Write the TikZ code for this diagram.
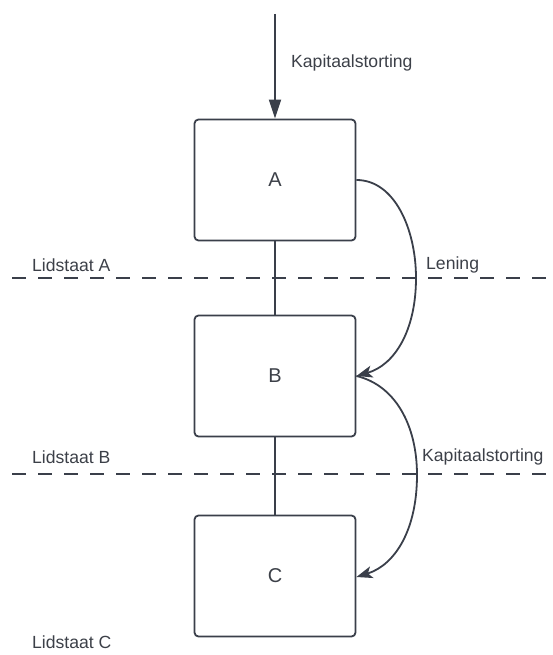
\documentclass[tikz,border=0pt]{standalone}
\usepackage{fontspec}
\setmainfont{Liberation Sans}
\usetikzlibrary{arrows.meta}
\definecolor{ink}{HTML}{3A3F4A}
\definecolor{txt}{HTML}{3C4048}
\begin{document}
\begin{tikzpicture}[x=1pt,y=-1pt,
  box/.style={draw=ink, line width=1.8pt, rounded corners=4pt, minimum width=161pt, minimum height=121pt, inner sep=0pt, font=\fontsize{20}{22}\selectfont, text=txt},
  lbl/.style={anchor=west, inner sep=0pt, font=\fontsize{17.6}{20}\selectfont, text=txt},
  link/.style={draw=ink, line width=1.8pt},
  flow/.style={draw=ink, line width=1.8pt, -{Stealth[length=16pt,width=12pt,inset=4pt]}},
  divider/.style={draw=ink, line width=1.8pt, dash pattern=on 14pt off 12pt}]
\useasboundingbox (0,0) rectangle (552,655);
\node[box] (A) at (275,180) {A};
\node[box] (B) at (275,376) {B};
\node[box] (C) at (275,576) {C};
\coordinate (top) at (275,14);
\coordinate (dA1) at (12,278);
\coordinate (dA2) at (552,278);
\coordinate (dB1) at (12,474);
\coordinate (dB2) at (552,474);
\draw[divider] (dA1) -- (dA2);
\draw[divider] (dB1) -- (dB2);
\draw[link] (A.south) -- (B.north);
\draw[link] (B.south) -- (C.north);
\draw[draw=ink, line width=1.8pt, -{Triangle[length=19pt,width=12pt]}] (top) -- (A.north);
\draw[flow] (A.east) .. controls (395,180) and (416,230) .. (416,278) .. controls (416,330) and (395,365) .. (B.east);
\draw[flow] (B.east) .. controls (395,385) and (417,425) .. (417,475) .. controls (417,530) and (395,565) .. ([yshift=-1pt]C.east);
\node[lbl] (k1) at (291,63) {Kapitaalstorting};
\node[lbl] (len) at (426,265) {Lening};
\node[lbl] (k2) at (422,457) {Kapitaalstorting};
\node[lbl] (la) at (32,265) {Lidstaat A};
\node[lbl] (lb) at (32,457) {Lidstaat B};
\node[lbl] (lc) at (32,642) {Lidstaat C};
\end{tikzpicture}
\end{document}
